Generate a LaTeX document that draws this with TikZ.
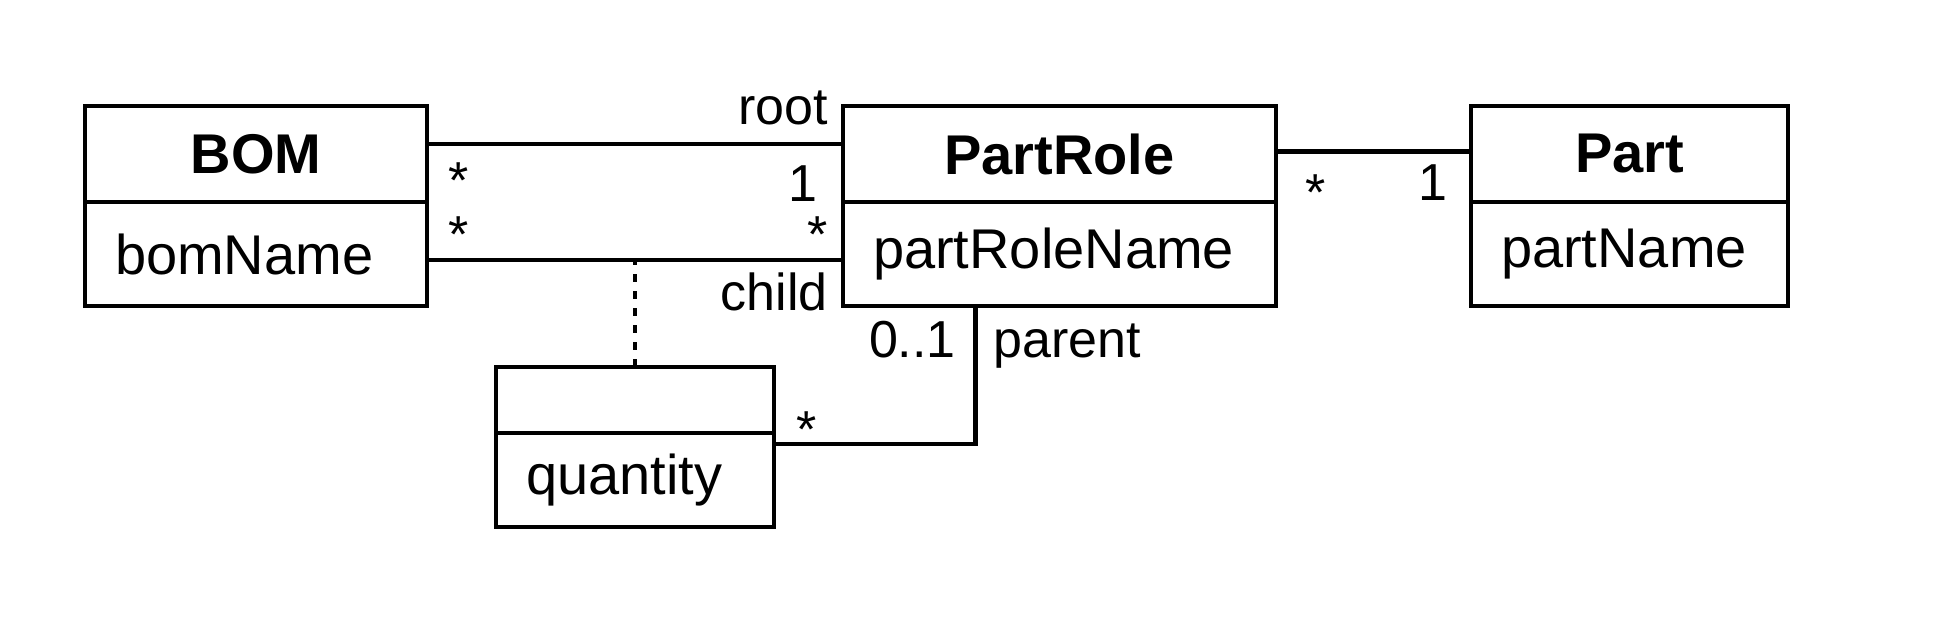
\documentclass[tikz,border=0pt]{standalone}
\usepackage{fontspec}
\setmainfont{Liberation Sans}
\usetikzlibrary{positioning}

\begin{document}
\begin{tikzpicture}[x=0.5pt,y=-0.5pt,line width=2.2pt,
  classname/.style={draw,font=\fontsize{28pt}{34pt}\selectfont\bfseries,minimum width=#1,minimum height=48pt,inner sep=0pt,outer sep=0pt},
  attrs/.style={draw,font=\fontsize{28pt}{34pt}\selectfont,text width=#1,align=left,inner xsep=15pt,inner ysep=0pt,minimum height=52pt,outer sep=0pt},
  mult/.style={font=\fontsize{26pt}{31pt}\selectfont,inner sep=0pt},
  assocline/.style={dash pattern=on 4pt off 4.5pt}]
  \useasboundingbox (0,0) rectangle (1948,630);

  \node[classname=171pt] (bom) at (256,154) {BOM};
  \node[attrs=141pt] (bomattr) [below=0pt of bom] {bomName};
  \node[classname=216.5pt] (partrole) at (1059.5,154) {PartRole};
  \node[attrs=186.5pt] (partroleattr) [below=0pt of partrole] {partRoleName};
  \node[classname=158.5pt] (part) at (1629.5,154) {Part};
  \node[attrs=128.5pt] (partattr) [below=0pt of part] {partName};
  \node[classname=138.75pt,minimum height=33pt] (qty) at (635,400) {};
  \node[attrs=108.75pt,minimum height=47pt] (qtyattr) [below=0pt of qty] {quantity};

  % root and child links
  \draw ([yshift=5pt]bom.east) --
      node[mult,at start,anchor=north west,xshift=9.5pt,yshift=-8.5pt] {*}
      node[mult,at end,anchor=north east,xshift=-11.5pt,yshift=-10pt] {1}
      node[mult,at end,anchor=base east,xshift=-6.5pt,yshift=9.5pt] {root}
    ([yshift=5pt]partrole.west);
  \draw ([yshift=-3pt]bomattr.east) --
      node[mult,at start,anchor=north west,xshift=9.5pt,yshift=22.5pt] {*}
      node[mult,at end,anchor=north east,xshift=-6.5pt,yshift=22.5pt] {*}
      node[mult,at end,anchor=north east,xshift=-6.5pt,yshift=-5.5pt] {child}
    ([yshift=-3pt]partroleattr.west);
  \coordinate (childend) at ([yshift=-3pt]bomattr.east);
  \draw[assocline] (qty.north) -- (qty.north |- childend);

  % parent link
  \draw ([yshift=-5.5pt]qtyattr.north east) -|
      node[mult,at start,anchor=north west,xshift=10.5pt,yshift=17pt] {*}
      node[mult,at end,anchor=base east,xshift=-8.75pt,yshift=-26pt] {0..1}
      node[mult,at end,anchor=base west,xshift=7.75pt,yshift=-26pt] {parent}
    ([xshift=-42pt]partroleattr.south);

  % part link
  \draw ([yshift=1.2pt]partrole.east) --
      node[mult,at start,anchor=north west,xshift=13.5pt,yshift=-10.5pt] {*}
      node[mult,at end,anchor=north east,xshift=-10.5pt,yshift=-5.5pt] {1}
    ([yshift=1.2pt]part.west);
\end{tikzpicture}
\end{document}
